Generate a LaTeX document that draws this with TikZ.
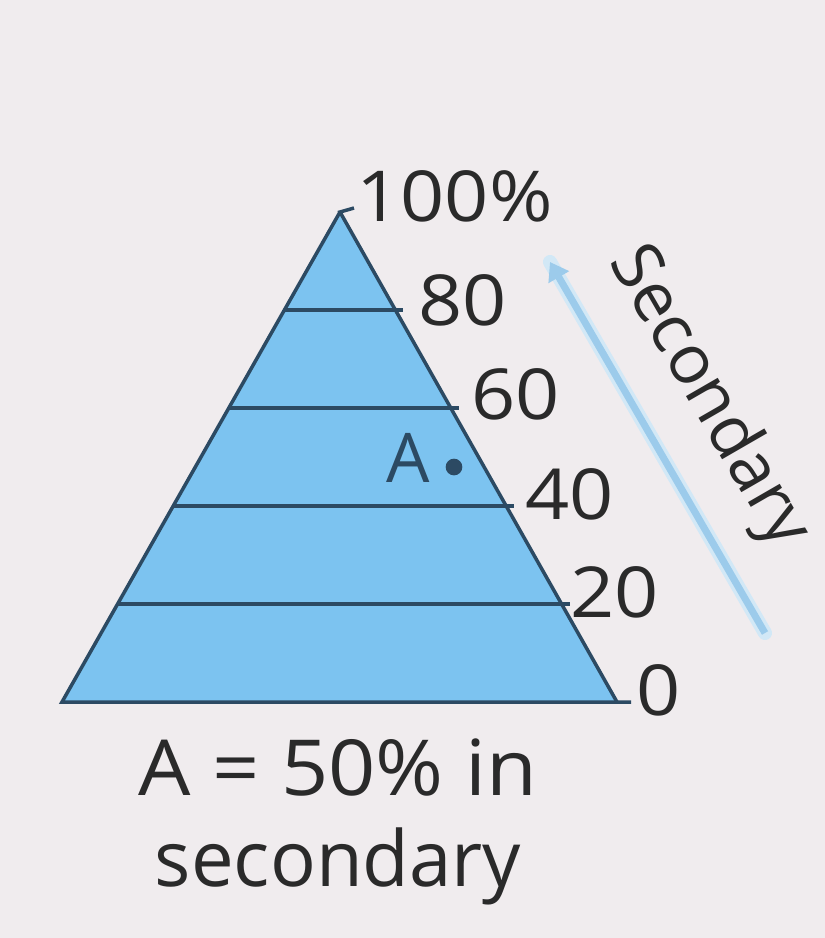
\documentclass[tikz,border=0pt]{standalone}
\usepackage{fontspec}
\setmainfont{Open Sans}
\usetikzlibrary{arrows.meta,calc}
\definecolor{bg}{HTML}{F0ECEE}
\definecolor{fillblue}{HTML}{7CC3F0}
\definecolor{edge}{HTML}{2C4A63}
\definecolor{txt}{HTML}{2A2A2A}
\definecolor{arrowblue}{HTML}{9CCBEB}
\tikzset{
  lbl/.style={text=txt, font=\fontsize{40}{46}\selectfont, inner sep=0pt, anchor=west, xscale=1.1},
  bigtxt/.style={text=txt, font=\fontsize{44}{52}\selectfont, inner sep=0pt, align=center, xscale=1.07},
  level/.style={draw=edge, line width=2pt},
}
\begin{document}
\begin{tikzpicture}[x=0.02cm,y=-0.02cm]
\fill[bg] (0,0) rectangle (825,938);
\useasboundingbox (0,0) rectangle (825,938);
% triangle
\coordinate (T) at (340,212);
\coordinate (L) at (62,702);
\coordinate (R) at (617,702);
\fill[fillblue] (T) -- (L) -- (R) -- cycle;
% levels
\foreach \k/\nm in {1/l20,2/l40,3/l60,4/l80}{
  \coordinate (\nm a) at ($(L)!\k/5!(T)$);
  \coordinate (\nm b) at ($(R)!\k/5!(T)$);
}
\draw[level] (l20a) -- ($(l20b)+(8,0)$) coordinate (l20t);
\draw[level] (l40a) -- ($(l40b)+(8,0)$) coordinate (l40t);
\draw[level] (l60a) -- ($(l60b)+(8,0)$) coordinate (l60t);
\draw[level] (l80a) -- ($(l80b)+(8,0)$) coordinate (l80t);
\draw[draw=edge, line width=2pt, line join=miter] (T) -- (L) -- ($(R)+(14,0)$) coordinate (l0t);
\draw[draw=edge, line width=2pt] (R) -- (T) -- ++(14,-4) coordinate (l100t);
% labels
\node[lbl] (n100) at (356,196) {100\%};
\node[lbl] (n80) at (418,300) {80};
\node[lbl] (n60) at (471,394) {60};
\node[lbl] (n40) at (525,494) {40};
\node[lbl] (n20) at (570,592) {20};
\node[lbl] (n0) at (636,690) {0};
% point A
\node[circle, fill=edge, inner sep=0pt, minimum size=9.5pt] (dotA) at (454,467) {};
\node[text=edge, font=\fontsize{39}{44}\selectfont, inner sep=0pt] (labA) at (408,458) {A};
% arrow
\coordinate (arS) at (765,633);
\coordinate (arE) at (550,262);
\draw[arrowblue!45, line width=8pt, line cap=round] (arS) -- (arE);
\draw[arrowblue, line width=4pt, -{Triangle[width=13pt,length=10pt]}] (arS) -- (arE);
\node[text=txt, font=\fontsize{39}{45}\selectfont, rotate=-60, inner sep=0pt] (sec) at (708,398) {Secondary};
% bottom text
\node[bigtxt] (btm) at (338,822) {A = 50\% in\\\scalebox{0.92}[1]{secondary}};
\end{tikzpicture}
\end{document}
